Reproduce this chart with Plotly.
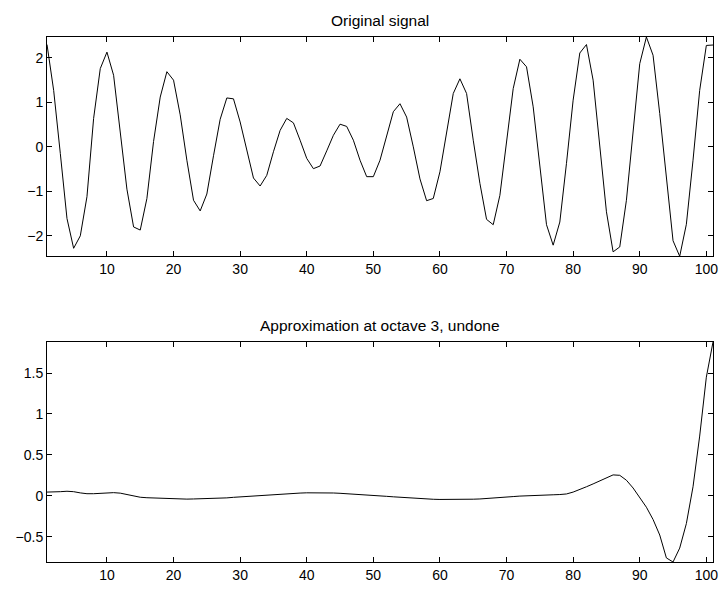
import plotly.graph_objects as go

x_vals = list(range(1, 102))

original_signal = [
    2.30, 1.27, -0.15, -1.61, -2.28, -2.00, -1.12, 0.64, 1.76, 2.13,
    1.61, 0.35, -0.95, -1.80, -1.87, -1.16, 0.12, 1.12, 1.69, 1.50,
    0.72, -0.30, -1.20, -1.44, -1.06, -0.20, 0.62, 1.10, 1.08, 0.56,
    -0.10, -0.70, -0.88, -0.64, -0.11, 0.37, 0.64, 0.54, 0.15, -0.26,
    -0.49, -0.43, -0.09, 0.26, 0.51, 0.46, 0.15, -0.30, -0.67, -0.67,
    -0.30, 0.25, 0.79, 0.97, 0.67, 0.00, -0.72, -1.21, -1.16, -0.56,
    0.37, 1.20, 1.53, 1.20, 0.15, -0.82, -1.63, -1.75, -1.09, 0.07,
    1.31, 1.97, 1.80, 0.90, -0.45, -1.75, -2.21, -1.69, -0.37, 1.05,
    2.11, 2.30, 1.50, -0.04, -1.46, -2.36, -2.25, -1.20, 0.37, 1.87,
    2.47, 2.06, 0.75, -0.75, -2.11, -2.46, -1.74, -0.30, 1.27, 2.28,
    2.29,
]

approximation = [
    0.045, 0.045, 0.050, 0.055, 0.050, 0.035, 0.025, 0.025, 0.030, 0.035,
    0.038, 0.032, 0.015, -0.005, -0.018, -0.024, -0.028, -0.032, -0.036, -0.040,
    -0.042, -0.041, -0.039, -0.038, -0.038, -0.037, -0.033, -0.026, -0.019, -0.013,
    -0.008, -0.003, 0.003, 0.009, 0.015, 0.020, 0.025, 0.029, 0.033, 0.036,
    0.037, 0.037, 0.036, 0.034, 0.030, 0.026, 0.021, 0.016, 0.011, 0.005,
    -0.001, -0.007, -0.013, -0.019, -0.025, -0.031, -0.036, -0.040, -0.043, -0.045,
    -0.046, -0.046, -0.045, -0.044, -0.042, -0.039, -0.035, -0.030, -0.024, -0.017,
    -0.010, -0.004, 0.001, 0.005, 0.008, 0.010, 0.012, 0.015, 0.022, 0.045,
    0.075, 0.110, 0.145, 0.180, 0.220, 0.255, 0.250, 0.190, 0.095, -0.020,
    -0.140, -0.290, -0.480, -0.760, -0.810, -0.640, -0.340, 0.110, 0.730, 1.450,
    1.880,
]

x_ticks = [10, 20, 30, 40, 50, 60, 70, 80, 90, 100]
top_y_ticks = [-2, -1, 0, 1, 2]
top_y_labels = ["\u22122", "\u22121", "0", "1", "2"]
bottom_y_ticks = [-0.5, 0, 0.5, 1, 1.5]
bottom_y_labels = ["\u22120.5", "0", "0.5", "1", "1.5"]

title_top = "Original signal"
title_bottom = "Approximation at octave 3, undone"

family = "Liberation Sans, Arial, Helvetica, sans-serif"
tick_font = dict(family=family, size=14, color="black")
title_font = dict(family=family, size=15.5, color="black")

fig = go.Figure()
fig.add_trace(go.Scatter(x=x_vals, y=original_signal, mode="lines",
                         line=dict(color="black", width=1), xaxis="x", yaxis="y",
                         showlegend=False))
fig.add_trace(go.Scatter(x=x_vals, y=approximation, mode="lines",
                         line=dict(color="black", width=1), xaxis="x2", yaxis="y2",
                         showlegend=False))

axis_common = dict(showgrid=False, zeroline=False, showline=True, linecolor="black",
                   linewidth=1, mirror="allticks", ticks="inside", ticklen=5,
                   tickcolor="black", tickfont=tick_font, automargin=False)

fig.update_layout(
    width=723, height=590,
    margin=dict(l=47, r=10, t=37, b=28),
    paper_bgcolor="white", plot_bgcolor="white",
    font=tick_font,
    xaxis=dict(domain=[0, 1], anchor="y", range=[1, 101], tickvals=x_ticks, **axis_common),
    yaxis=dict(domain=[0.5823, 1], anchor="x",
               range=[min(original_signal), max(original_signal)],
               tickvals=top_y_ticks, ticktext=top_y_labels, **axis_common),
    xaxis2=dict(domain=[0, 1], anchor="y2", range=[1, 101], tickvals=x_ticks, **axis_common),
    yaxis2=dict(domain=[0, 0.419], anchor="x2",
                range=[min(approximation), max(approximation)],
                tickvals=bottom_y_ticks, ticktext=bottom_y_labels, **axis_common),
    annotations=[
        dict(text=title_top, x=0.5, y=1, xref="paper", yref="paper",
             xanchor="center", yanchor="bottom", yshift=6, showarrow=False,
             font=title_font),
        dict(text=title_bottom, x=0.5, y=0.419, xref="paper", yref="paper",
             xanchor="center", yanchor="bottom", yshift=6, showarrow=False,
             font=title_font),
    ],
)

fig.write_html(
    "out.html",
    config={"displayModeBar": False},
    post_script="document.body.style.margin='0';document.body.style.overflow='hidden';",
)
